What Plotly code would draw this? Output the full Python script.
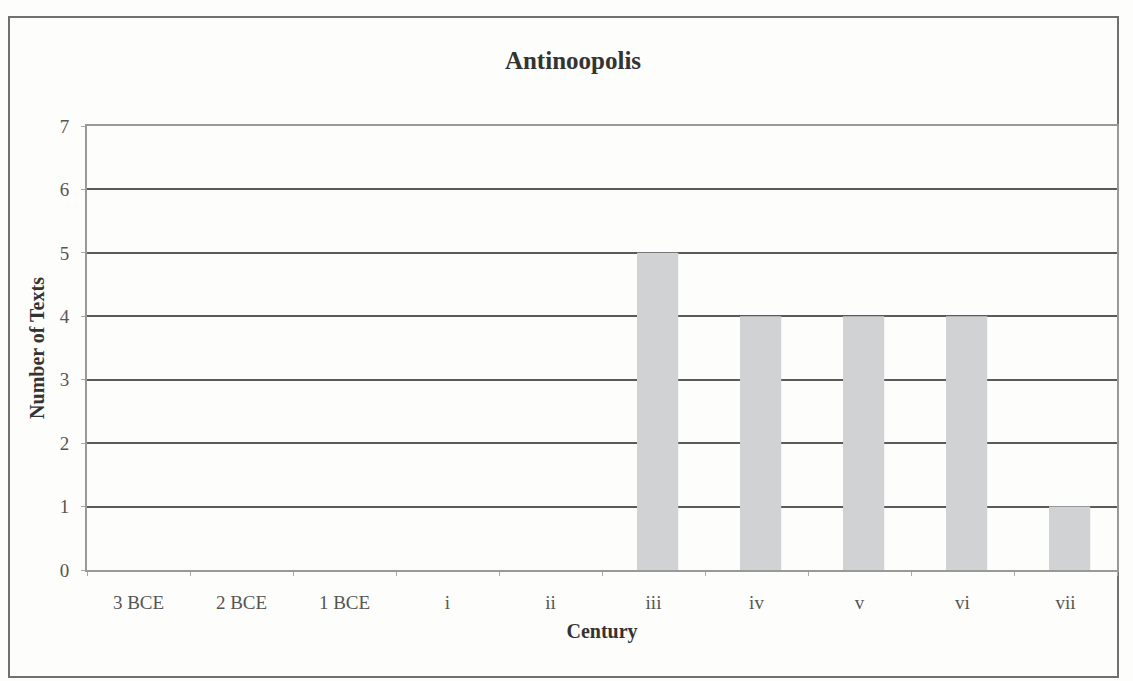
import plotly.graph_objects as go

# Texts per century at Antinoopolis
centuries = ["3 BCE", "2 BCE", "1 BCE", "i", "ii", "iii", "iv", "v", "vi", "vii"]
num_texts = [0, 0, 0, 0, 0, 5, 4, 4, 4, 1]
y_ticks = [0, 1, 2, 3, 4, 5, 6, 7]

W, H = 1133, 681
ML, MR, MT, MB = 87, 16, 126, 111
pw, ph = W - ML - MR, H - MT - MB

def px_x(x):
    return (x - ML) / pw

def px_y(y):
    return (H - MB - y) / ph

serif = "Liberation Serif, Times New Roman, serif"

fig = go.Figure(
    go.Bar(
        x=centuries,
        y=num_texts,
        marker=dict(color="#d0d2d4", line=dict(width=0)),
        width=0.4,
        offset=-0.16,
    )
)

fig.update_layout(
    width=W,
    height=H,
    margin=dict(l=ML, r=MR, t=MT, b=MB),
    paper_bgcolor="#fdfdfb",
    plot_bgcolor="#fdfdfb",
    showlegend=False,
    font=dict(family=serif, color="#555555", size=18),
    title=dict(
        text="<b>Antinoopolis</b>",
        x=573 / W,
        xanchor="center",
        y=1 - 60 / H,
        yanchor="middle",
        font=dict(family=serif, size=25, color="#333333"),
    ),
    shapes=[
        dict(
            type="rect",
            xref="paper",
            yref="paper",
            x0=px_x(9),
            x1=px_x(1118),
            y0=px_y(677),
            y1=px_y(17),
            line=dict(color="#707070", width=2),
            fillcolor="rgba(0,0,0,0)",
            layer="below",
        )
    ],
)

fig.update_xaxes(
    type="category",
    categoryorder="array",
    categoryarray=centuries,
    showgrid=False,
    showline=True,
    linecolor="#999999",
    linewidth=2,
    mirror=True,
    ticks="outside",
    tickson="boundaries",
    ticklen=4,
    tickcolor="#aaaaaa",
    ticklabelstandoff=14,
    tickfont=dict(family=serif, size=19, color="#555555"),
    title=dict(
        text="<b>Century</b>",
        font=dict(family=serif, size=20, color="#333333"),
        standoff=12,
    ),
)

fig.update_yaxes(
    range=[0, 7],
    tickvals=y_ticks,
    showgrid=True,
    gridcolor="#5a5a5a",
    gridwidth=2,
    showline=True,
    linecolor="#999999",
    linewidth=2,
    mirror=True,
    zeroline=False,
    ticks="outside",
    ticklen=4,
    tickcolor="#aaaaaa",
    ticklabelstandoff=8,
    tickfont=dict(family=serif, size=19, color="#555555"),
    title=dict(
        text="<b>Number of Texts</b>",
        font=dict(family=serif, size=20, color="#333333"),
        standoff=10,
    ),
)

fig.write_html("out.html")
